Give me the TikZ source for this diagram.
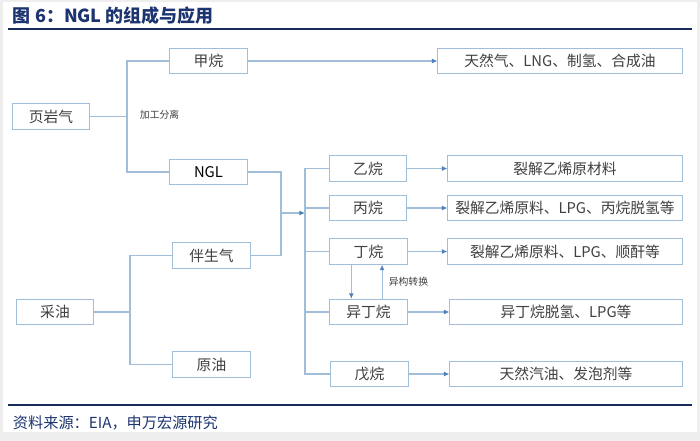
\documentclass[tikz,border=0pt]{standalone}
\usepackage{fontspec}
\setmainfont{Noto Sans CJK SC}
\usepackage{xcolor}
\usepackage{tikz}
\usetikzlibrary{arrows.meta}

\definecolor{boxline}{RGB}{160,190,216}
\definecolor{tipblue}{RGB}{79,129,189}
\definecolor{titleblue}{RGB}{28,52,112}
\definecolor{rulenavy}{RGB}{24,44,92}
\definecolor{textgray}{RGB}{64,64,64}
\definecolor{framegray}{RGB}{238,238,238}

\begin{document}
\begin{tikzpicture}[
	x=0.025cm, y=-0.025cm,
	font=\fontsize{10.5}{13}\selectfont,
	stage/.style={
		rectangle, draw=boxline, line width=0.7pt,
		text=textgray, minimum width=1.93cm,
		minimum height=0.63cm, inner sep=0pt
	},
	usage/.style={
		rectangle, draw=boxline, line width=0.7pt,
		text=textgray, minimum width=5.85cm,
		minimum height=0.63cm, inner sep=0pt
	},
	link/.style={draw=boxline, line width=0.8pt},
	arr/.style={link, -{Latex[length=4pt,width=3.6pt,color=tipblue]}},
	note/.style={font=\fontsize{7}{8}\selectfont, text=textgray},
	rulebar/.style={draw=rulenavy, line width=1.4pt}
	]
	
	%% ─── FRAME ───────────────────────────────────────────────
	\useasboundingbox (0,0) rectangle (700,441);
	\fill[framegray] (0,0) rectangle (700,441);
	\fill[white] (3,2) rectangle (697,432);
	
	\node[anchor=west, font=\fontsize{12.8}{16}\selectfont\bfseries, text=titleblue]
		(title) at (8,16) {图 6：NGL 的组成与应用};
	\coordinate (topl) at (8,29);
	\coordinate (topr) at (692,29);
	\draw[rulebar] (topl) -- (topr);
	
	%% ─── SOURCES ─────────────────────────────────────────────
	\node[stage] (shale) at (51,116.5) {页岩气};
	\node[stage] (methane) at (208.5,61) {甲烷};
	\node[stage, text=black] (ngl) at (208.5,172) {NGL};
	
	\node[stage] (oil) at (55,312) {采油};
	\node[stage] (assoc) at (211.5,255.5) {伴生气};
	\node[stage] (crude) at (211.5,364.5) {原油};
	
	\coordinate (split) at (127,116.5);
	\draw[link] (shale) -- (split);
	\draw[link] (methane.west) -| (split) |- (ngl.west);
	\node[note, anchor=west] (sep) at (135,115) {加工分离};
	
	\coordinate (split2) at (130,312);
	\draw[link] (oil) -- (split2);
	\draw[link] (assoc.west) -| (split2) |- (crude.west);
	
	%% ─── NGL COMPONENTS ──────────────────────────────────────
	\node[stage] (ethane) at (368,168.5) {乙烷};
	\node[stage] (propane) at (368,208) {丙烷};
	\node[stage] (butane) at (368.5,251.5) {丁烷};
	\node[stage] (isobutane) at (368.5,312) {异丁烷};
	\node[stage] (pentane) at (369.5,374) {戊烷};
	
	\coordinate (merge) at (281,213);
	\coordinate (bus) at (305,213);
	\draw[link] (ngl.east) -| (merge);
	\draw[link] (assoc.east) -| (merge);
	\draw[arr] (merge) -- (bus);
	\draw[link] (ethane.west) -| (bus) |- (pentane.west);
	\draw[link] (propane.west) -- (propane.west -| bus);
	\draw[link] (butane.west) -- (butane.west -| bus);
	\draw[link] (isobutane.west) -- (isobutane.west -| bus);
	
	\draw[arr] ([xshift=-0.43cm]butane.south) -- ([xshift=-0.43cm]isobutane.north);
	\draw[arr] ([xshift=0.34cm]isobutane.north) -- node[note, right=1pt]{异构转换}
		([xshift=0.34cm]butane.south);
	
	%% ─── APPLICATIONS ────────────────────────────────────────
	\node[usage, minimum width=6.1cm] (gasuse) at (560,61) {天然气、LNG、制氢、合成油};
	\node[usage] (ethuse) at (565,168.5) {裂解乙烯原材料};
	\node[usage] (propuse) at (565,208) {裂解乙烯原料、LPG、丙烷脱氢等};
	\node[usage] (butuse) at (565,251.5) {裂解乙烯原料、LPG、顺酐等};
	\node[usage, minimum width=5.8cm] (isouse) at (566,312) {异丁烷脱氢、LPG等};
	\node[usage, minimum width=5.8cm] (pentuse) at (566,374) {天然汽油、发泡剂等};
	
	\draw[arr] (methane) -- (gasuse);
	\draw[arr] (ethane) -- (ethuse);
	\draw[arr] (propane) -- (propuse);
	\draw[arr] (butane) -- (butuse);
	\draw[arr] (isobutane) -- (isouse);
	\draw[arr] (pentane) -- (pentuse);
	
	%% ─── SOURCE LINE ─────────────────────────────────────────
	\coordinate (botl) at (8,405);
	\coordinate (botr) at (692,405);
	\draw[rulebar] (botl) -- (botr);
	\node[anchor=west, font=\fontsize{10.8}{13}\selectfont, text=titleblue]
		(source) at (8,423) {资料来源：EIA，申万宏源研究};
	
\end{tikzpicture}
\end{document}
